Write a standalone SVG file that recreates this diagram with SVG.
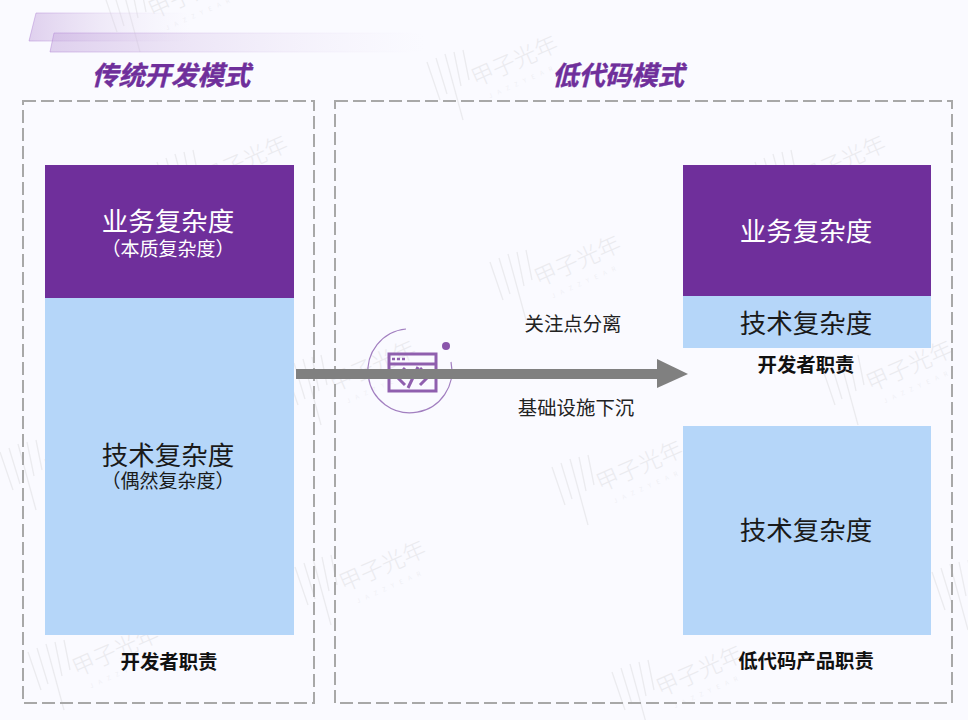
<svg xmlns="http://www.w3.org/2000/svg" width="968" height="720" viewBox="0 0 968 720">
<style>
text{font-family:"Noto Sans CJK SC","Liberation Sans",sans-serif;text-anchor:middle}
.frame{fill:none;stroke:#a8a8a8;stroke-width:2;stroke-dasharray:13 5}
.purple{fill:#6f2f9b}
.blue{fill:#b5d6f9}
.w{fill:#fff;font-size:26.5px}
.d{fill:#1a1a1a;font-size:26.5px}
.sub{font-size:19px}
.cap{fill:#111;font-size:19.4px;font-weight:700}
.lab{fill:#222;font-size:19.4px}
.title{fill:#6f2f9b;font-size:26.4px;font-weight:700;font-style:italic;stroke:#6f2f9b;stroke-width:.4}
.wm line{stroke:#ebebef;stroke-width:1.3}
.wm text{fill:#ebebef;font-size:23px;font-weight:300}
.wm .s{font-size:6px;letter-spacing:6px}
.ic{fill:none;stroke:#8f5fae;stroke-width:3}
</style>
<defs>
<linearGradient id="g1" x1="0" x2="1" y1="0" y2="0"><stop offset="0" stop-color="#c9aee0" stop-opacity=".55"/><stop offset="1" stop-color="#e6dcf2" stop-opacity="0"/></linearGradient>
<linearGradient id="g2" x1="0" x2="1" y1="0" y2="0"><stop offset="0" stop-color="#b78fd8" stop-opacity=".7"/><stop offset="1" stop-color="#e6dcf2" stop-opacity="0"/></linearGradient>
<g id="mark" class="wm">
<line x1="0" y1="12" x2="13" y2="50"/><line x1="9" y1="8" x2="20" y2="44"/><line x1="18" y1="4" x2="36" y2="70"/><line x1="27" y1="2" x2="34" y2="36"/><line x1="36" y1="0" x2="42" y2="30"/>
<g transform="rotate(-24 50 30)"><text x="92" y="36">甲子光年</text><text class="s" x="92" y="52">JAZZYEAR</text></g>
</g>
</defs>
<rect width="968" height="720" fill="#fafaff"/>
<g id="watermarks">
<use href="#mark" x="104" y="-18"/><use href="#mark" x="427" y="50"/><use href="#mark" x="157" y="150"/><use href="#mark" x="755" y="150"/><use href="#mark" x="490" y="250"/><use href="#mark" x="285" y="355"/><use href="#mark" x="822" y="355"/><use href="#mark" x="0" y="440"/><use href="#mark" x="552" y="455"/><use href="#mark" x="295" y="555"/><use href="#mark" x="28" y="640"/><use href="#mark" x="612" y="660"/><use href="#mark" x="932" y="560"/>
</g>
<g id="banner">
<polygon points="36,13 190,13 190,41 29,41" fill="url(#g1)" stroke="url(#g2)" stroke-width=".8"/>
<polygon points="54,33 425,33 425,52 50,52" fill="url(#g1)" stroke="url(#g2)" stroke-width=".8"/>
</g>
<g id="left-panel">
<rect class="frame" x="23" y="101" width="291" height="602"/>
<text class="title" x="171" y="85">传统开发模式</text>
</g>
<g id="right-panel">
<rect class="frame" x="335" y="101" width="617" height="602"/>
<text class="title" x="618" y="85">低代码模式</text>
</g>
<g id="left-business">
<rect class="purple" x="45" y="165" width="249" height="133"/>
<text class="w" x="168" y="231">业务复杂度</text>
<text class="w sub" x="168" y="256">（本质复杂度）</text>
</g>
<g id="left-tech">
<rect class="blue" x="45" y="298" width="249" height="337"/>
<text class="d" x="168" y="465">技术复杂度</text>
<text class="d sub" x="168" y="488">（偶然复杂度）</text>
</g>
<text id="left-caption" class="cap" x="169" y="669">开发者职责</text>
<g id="right-business">
<rect class="purple" x="683" y="165" width="248" height="131"/>
<text class="w" x="806" y="241">业务复杂度</text>
</g>
<g id="right-tech-top">
<rect class="blue" x="683" y="296" width="248" height="52"/>
<text class="d" x="806" y="333">技术复杂度</text>
</g>
<text id="right-caption-top" class="cap" x="806" y="372">开发者职责</text>
<g id="right-tech-bottom">
<rect class="blue" x="683" y="426" width="248" height="209"/>
<text class="d" x="806" y="540">技术复杂度</text>
</g>
<text id="right-caption-bottom" class="cap" x="806" y="668">低代码产品职责</text>
<g id="code-icon">
<path d="M406 329 A42 42 0 1 0 451 362" fill="none" stroke="#a27fc0" stroke-width="1.2"/>
<circle cx="446" cy="346" r="4" fill="#8a55ab"/>
<rect class="ic" x="389" y="354" width="47" height="37"/>
<line class="ic" x1="389" y1="364" x2="436" y2="364"/>
<path d="M392 359h3M397 359h3M402 359h3" stroke="#8f5fae" stroke-width="2.5" fill="none"/>
<path class="ic" d="M405 368l-8 9 8 8M420 368l8 9-8 8M418 367l-10 21"/>
</g>
<g id="connectors">
<rect x="296" y="369" width="364" height="10" fill="#808080"/>
<polygon points="657,359 688,374 657,388" fill="#808080"/>
</g>
<text class="lab" x="573" y="331">关注点分离</text>
<text class="lab" x="576" y="415">基础设施下沉</text>
</svg>
